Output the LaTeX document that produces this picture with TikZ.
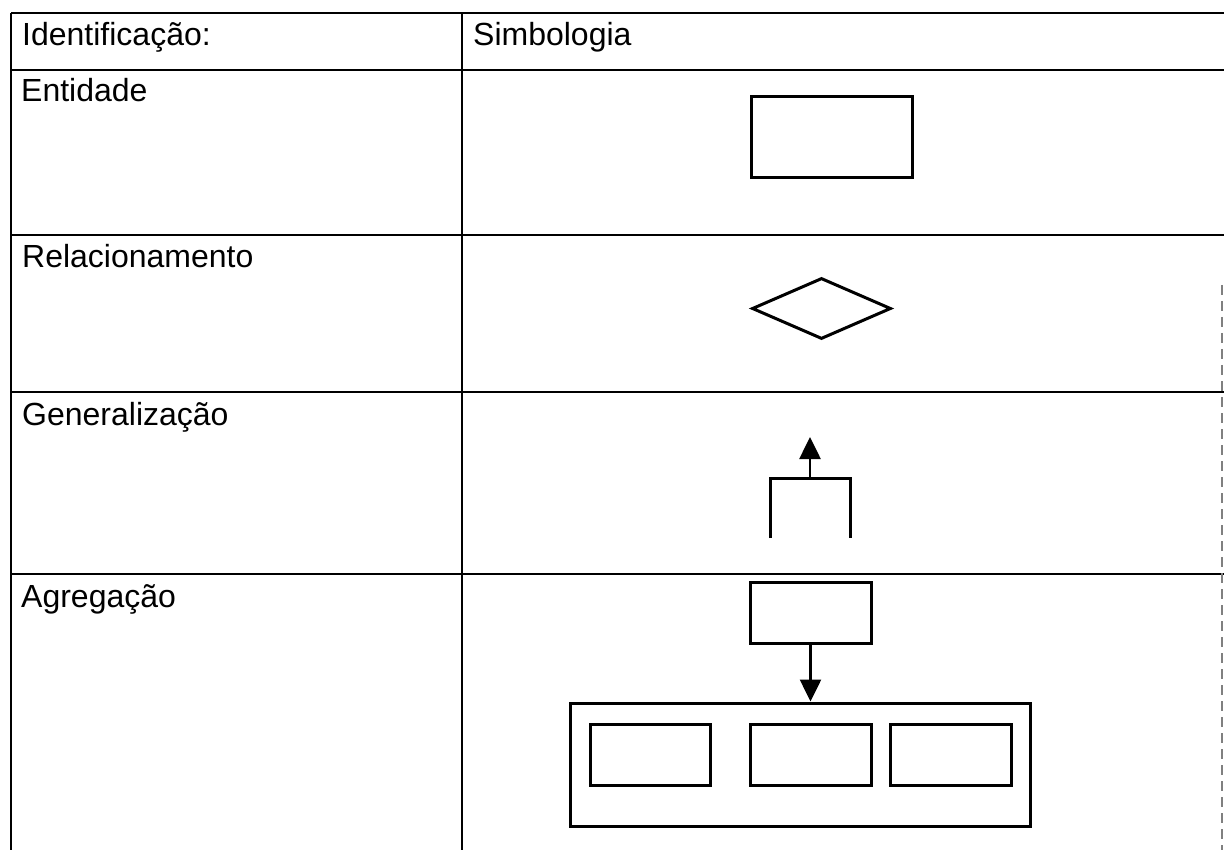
\documentclass[tikz,border=0pt]{standalone}
\usepackage{fontspec}
\setmainfont{Liberation Sans}
\usetikzlibrary{shapes.geometric,arrows.meta}
\begin{document}
\begin{tikzpicture}[x=1pt,y=-1pt,
  grid/.style={line width=2.4pt,black},
  lbl/.style={anchor=base west,inner sep=0pt,font=\fontsize{32}{36}\selectfont},
  box/.style={draw,line width=3pt,rectangle,inner sep=0pt},
  gtip/.style={-{Triangle[width=21pt,length=22pt]},line width=2.6pt}]
\useasboundingbox (0,0) rectangle (1224,850);
% table
\draw[grid] (11,13) -- (1224,13);
\draw[grid] (11,70) -- (1224,70);
\draw[grid] (11,235) -- (1224,235);
\draw[grid] (11,392) -- (1224,392);
\draw[grid] (11,574) -- (1224,574);
\draw[grid] (11,13) -- (11,850);
\draw[grid] (462,13) -- (462,850);
\draw[gray,line width=1.2pt,dash pattern=on 10pt off 6pt] (1222,285) -- (1222,850);
% labels
\node[lbl] (hid) at (22,46) {Identificação:};
\node[lbl] (hsym) at (473,46) {Simbologia};
\node[lbl] (lent) at (21,102) {Entidade};
\node[lbl] (lrel) at (22,268) {Relacionamento};
\node[lbl] (lgen) at (22,425) {Generalização};
\node[lbl] (lagr) at (21,607) {Agregação};
% entity
\node[box,minimum width=161pt,minimum height=81pt] (ent) at (831.5,137.5) {};
% relationship
\node[draw,diamond,line width=3pt,inner sep=0pt,minimum width=139pt,minimum height=61pt] (rel) at (821.5,308.5) {};
% generalization
\coordinate (gl) at (770,538);
\coordinate (gr) at (850,538);
\coordinate (gtl) at (770,478);
\coordinate (gtr) at (850,478);
\coordinate (gm) at (810,478);
\coordinate (gtop) at (810,437);
\draw[line width=3pt] (gl) -- (gtl) -- (gtr) -- (gr);
\draw[gtip] (gm) -- (gtop);
% aggregation
\node[box,minimum width=121pt,minimum height=61pt] (atop) at (810.5,612.5) {};
\node[box,minimum width=460pt,minimum height=123pt] (aout) at (800,764.5) {};
\node[box,minimum width=120pt,minimum height=61pt] (a1) at (650,754.5) {};
\node[box,minimum width=121pt,minimum height=61pt] (a2) at (810.5,754.5) {};
\node[box,minimum width=121pt,minimum height=61pt] (a3) at (950.5,754.5) {};
\draw[gtip] (atop.south) -- (aout.north -| atop.south);
\end{tikzpicture}
\end{document}
